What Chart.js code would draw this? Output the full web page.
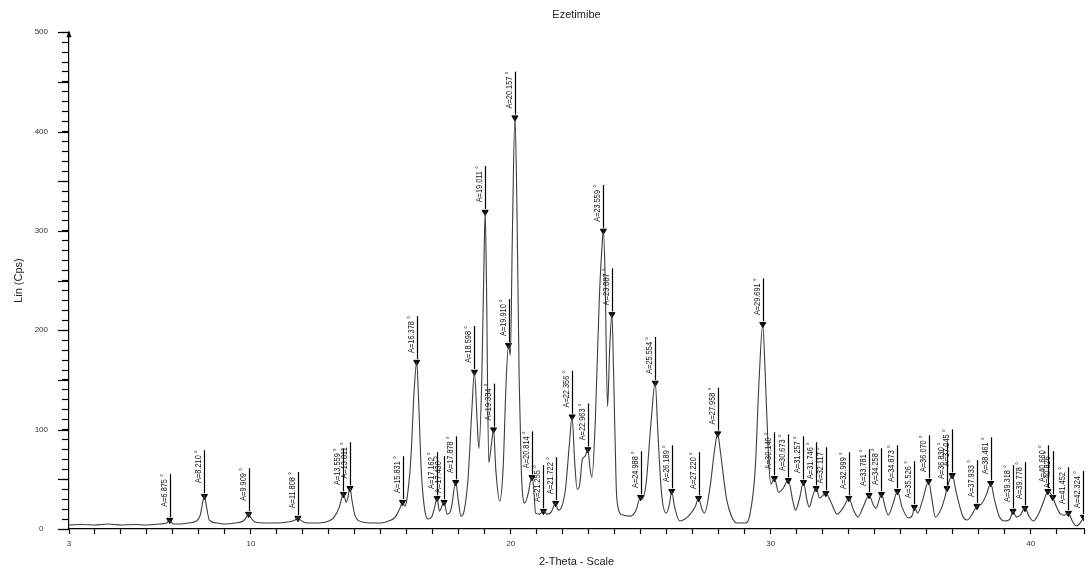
<!DOCTYPE html>
<html>
<head>
<meta charset="utf-8">
<script src="https://cdn.jsdelivr.net/npm/chart.js@4.4.1/dist/chart.umd.min.js"></script>
<style>
  html, body { margin: 0; padding: 0; background: #fff; }
  #wrap { width: 1089px; height: 571px; }
</style>
</head>
<body>
<div id="wrap"><canvas id="xrd"></canvas></div>
<script>
// scan trace (2-theta in degrees, counts)
const twoTheta = [
  3.00, 3.50, 4.00, 4.50, 5.00, 5.50, 6.00, 6.50, 6.75, 6.875, 7.00, 7.30, 7.60, 7.90,
  8.05, 8.15, 8.21, 8.28, 8.40, 8.70, 9.00, 9.40, 9.70, 9.85, 9.91, 9.98, 10.15, 10.50,
  11.00, 11.40, 11.70, 11.81, 11.90, 12.20, 12.60, 13.00, 13.20, 13.40, 13.50, 13.56,
  13.66, 13.72, 13.81, 13.88, 14.00, 14.30, 14.70, 15.00, 15.30, 15.55, 15.75, 15.83,
  15.92, 16.00, 16.15, 16.28, 16.378, 16.45, 16.55, 16.68, 16.82, 16.95, 17.05, 17.162,
  17.25, 17.43, 17.55, 17.70, 17.878, 17.98, 18.08, 18.20, 18.35, 18.50, 18.598, 18.70,
  18.77, 18.88, 18.96, 19.011, 19.06, 19.15, 19.25, 19.334, 19.42, 19.57, 19.70, 19.82,
  19.91, 19.98, 20.06, 20.157, 20.23, 20.32, 20.40, 20.53, 20.66, 20.814, 20.88, 20.95,
  21.10, 21.255, 21.40, 21.55, 21.722, 21.82, 21.95, 22.10, 22.25, 22.356, 22.45, 22.55,
  22.65, 22.75, 22.85, 22.963, 23.05, 23.12, 23.25, 23.40, 23.52, 23.559, 23.62, 23.72,
  23.80, 23.887, 23.95, 24.05, 24.10, 24.30, 24.60, 24.80, 24.988, 25.05, 25.20, 25.40,
  25.554, 25.65, 25.80, 25.98, 26.10, 26.189, 26.30, 26.50, 26.70, 26.90, 27.10, 27.22,
  27.35, 27.45, 27.65, 27.85, 27.958, 28.05, 28.30, 28.50, 28.70, 29.00, 29.20, 29.40,
  29.55, 29.691, 29.78, 29.90, 30.00, 30.14, 30.30, 30.45, 30.673, 30.85, 30.95, 31.10,
  31.257, 31.40, 31.48, 31.60, 31.746, 31.88, 32.117, 32.30, 32.55, 32.80, 32.999, 33.20,
  33.35, 33.55, 33.781, 33.95, 34.05, 34.258, 34.40, 34.52, 34.70, 34.873, 35.05, 35.30,
  35.45, 35.526, 35.65, 35.85, 36.07, 36.20, 36.33, 36.55, 36.68, 36.78, 36.98, 37.15,
  37.40, 37.55, 37.75, 37.933, 38.10, 38.30, 38.461, 38.60, 38.80, 39.00, 39.20, 39.318,
  39.45, 39.60, 39.778, 39.95, 40.10, 40.30, 40.50, 40.66, 40.85, 40.95, 41.15, 41.30,
  41.452, 41.60, 41.75, 41.90, 42.05
];
const counts = [
  4, 4.5, 4, 5, 4, 4.5, 4, 5, 6, 9, 5, 5, 6, 8,
  14, 28, 34, 24, 9, 6, 5, 6, 8, 13, 16, 12, 7, 6,
  6, 7, 9, 12, 9, 6, 6, 8, 12, 22, 32, 36,
  27, 30, 42, 30, 14, 7, 6, 6, 8, 12, 22, 27,
  23, 30, 70, 140, 168, 130, 60, 20, 10, 12, 20, 31,
  18, 27, 15, 20, 47, 28, 13, 18, 50, 120, 158, 110,
  81, 150, 260, 320, 250, 67, 85, 100, 60, 28, 60, 150,
  185, 175, 300, 415, 330, 150, 60, 26, 35, 53, 40, 16,
  15, 18, 15, 17, 26, 19, 22, 40, 85, 113, 70, 40,
  45, 70, 73, 80, 60, 52, 110, 230, 290, 300, 260, 123,
  180, 217, 160, 45, 25, 14, 13, 18, 32, 30, 45, 110,
  148, 100, 35, 16, 25, 38, 22, 8, 10, 15, 23, 31,
  20, 16, 40, 82, 96, 80, 30, 12, 6, 6, 15, 60,
  150, 206, 160, 80, 45, 51, 37, 40, 49, 28, 19, 30,
  47, 28, 22, 32, 41, 31, 36, 28, 15, 22, 31, 18,
  12, 22, 34, 24, 21, 35, 22, 14, 25, 38, 22, 11,
  14, 22, 16, 30, 48, 30, 12, 20, 30, 41, 54, 35,
  12, 9, 15, 23, 25, 35, 46, 30, 12, 8, 10, 18,
  12, 14, 21, 12, 8, 15, 28, 38, 32, 25, 15, 14,
  16, 8, 3, 6, 12
];

// peak markers
const peakTheta = [
  6.875, 8.210, 9.909, 11.808, 13.559, 13.811, 15.831, 16.378, 17.162, 17.430, 17.878,
  18.598, 19.011, 19.334, 19.910, 20.157, 20.814, 21.255, 21.722, 22.356, 22.963, 23.559,
  23.887, 24.988, 25.554, 26.189, 27.220, 27.958, 29.691, 30.140, 30.673, 31.257, 31.746,
  32.117, 32.999, 33.781, 34.258, 34.873, 35.526, 36.070, 36.780, 36.980, 37.933, 38.461,
  39.318, 39.778, 40.660, 40.850, 41.452, 42.030
];
const peakCounts = [
  9, 33, 15, 11, 35, 41, 27, 168, 31, 27, 47,
  158, 319, 100, 185, 414, 52, 18, 26, 113, 80, 300,
  216, 32, 147, 38, 31, 96, 206, 51, 49, 47, 41,
  36, 31, 34, 35, 38, 22, 48, 41, 54, 23, 46,
  18, 21, 38, 32, 16, 12
];
const peakLabels = [
  'A=6.875 °', 'A=8.210 °', 'A=9.909 °', 'A=11.808 °', 'A=13.559 °', 'A=13.811 °',
  'A=15.831 °', 'A=16.378 °', 'A=17.162 °', 'A=17.430 °', 'A=17.878 °', 'A=18.598 °',
  'A=19.011 °', 'A=19.334 °', 'A=19.910 °', 'A=20.157 °', 'A=20.814 °', 'A=21.255 °',
  'A=21.722 °', 'A=22.356 °', 'A=22.963 °', 'A=23.559 °', 'A=23.887 °', 'A=24.988 °',
  'A=25.554 °', 'A=26.189 °', 'A=27.220 °', 'A=27.958 °', 'A=29.691 °', 'A=30.140 °',
  'A=30.673 °', 'A=31.257 °', 'A=31.746 °', 'A=32.117 °', 'A=32.999 °', 'A=33.781 °',
  'A=34.258 °', 'A=34.873 °', 'A=35.526 °', 'A=36.070 °', 'A=36.830 °', 'A=37.045 °',
  'A=37.933 °', 'A=38.461 °', 'A=39.318 °', 'A=39.778 °', 'A=40.660 °', 'A=40.826 °',
  'A=41.452 °', 'A=42.324 °'
];

const xTickLabels = [3, 10, 20, 30, 40];
const yTickLabels = [0, 100, 200, 300, 400, 500];

const labelFont = '9px "Liberation Sans Narrow", "Liberation Sans", Arial, sans-serif';

// stick + rotated label above each marker, longer ticks on the y axis
const peakMarkers = {
  id: 'peakMarkers',
  afterDatasetsDraw(chart) {
    const { ctx, scales: { x, y } } = chart;
    ctx.save();
    ctx.strokeStyle = '#000';
    ctx.lineWidth = 1.2;
    ctx.fillStyle = '#111';
    ctx.font = labelFont;
    peakTheta.forEach((t, i) => {
      const px = Math.round(x.getPixelForValue(t)) + 0.5;
      const py = y.getPixelForValue(peakCounts[i]);
      ctx.beginPath();
      ctx.moveTo(px, py - 3);
      ctx.lineTo(px, py - 46);
      ctx.stroke();
      ctx.save();
      ctx.translate(px - 1.5, py - 46);
      ctx.rotate(-Math.PI / 2);
      ctx.scale(0.82, 1);
      ctx.textAlign = 'right';
      ctx.textBaseline = 'bottom';
      ctx.fillText(peakLabels[i], 0, 0);
      ctx.restore();
    });
    // longer ticks every 50
    ctx.lineWidth = 1.2;
    for (let v = 0; v <= 500; v += 50) {
      const ty = Math.round(y.getPixelForValue(v)) + 0.5;
      ctx.beginPath();
      ctx.moveTo(x.left - 11, ty);
      ctx.lineTo(x.left, ty);
      ctx.stroke();
    }
    // small arrow head on top of the y axis
    const ax = x.left, ay = y.top;
    ctx.fillStyle = '#000';
    ctx.beginPath();
    ctx.moveTo(ax, ay - 2);
    ctx.lineTo(ax - 2.5, ay + 5);
    ctx.lineTo(ax + 2.5, ay + 5);
    ctx.closePath();
    ctx.fill();
    ctx.restore();
  }
};

new Chart(document.getElementById('xrd'), {
  type: 'scatter',
  data: {
    datasets: [{
      data: twoTheta.map((t, i) => ({ x: t, y: counts[i] })),
      showLine: true,
      borderColor: '#3c3c3c',
      borderWidth: 1.1,
      pointRadius: 0,
      cubicInterpolationMode: 'monotone'
    }, {
      data: peakTheta.map((t, i) => ({ x: t, y: peakCounts[i] })),
      showLine: false,
      pointStyle: 'triangle',
      rotation: 180,
      pointRadius: 3.5,
      backgroundColor: '#000',
      borderColor: '#000',
      borderWidth: 1
    }]
  },
  options: {
    responsive: true,
    maintainAspectRatio: false,
    animation: false,
    layout: { padding: { top: 0, right: 0, bottom: 0, left: 0 } },
    plugins: {
      legend: { display: false },
      tooltip: { enabled: false },
      title: {
        display: true,
        text: 'Ezetimibe',
        fullSize: false,
        color: '#222',
        font: { family: 'Liberation Sans, Arial, sans-serif', size: 11, weight: 'normal' },
        padding: { top: 8, bottom: 11 }
      }
    },
    scales: {
      x: {
        type: 'linear',
        min: 3,
        max: 42.05,
        afterFit: s => { s.height = 42; },
        border: { display: true, color: '#000', width: 1.2 },
        grid: { drawOnChartArea: false, drawTicks: true, tickLength: 5, tickColor: '#000', tickWidth: 1.2 },
        ticks: {
          stepSize: 1,
          autoSkip: false,
          maxRotation: 0,
          padding: 5,
          color: '#333',
          font: { family: 'Liberation Sans, Arial, sans-serif', size: 8 },
          callback: v => (xTickLabels.includes(v) ? String(v) : '')
        },
        title: {
          display: true,
          text: '2-Theta - Scale',
          color: '#222',
          font: { family: 'Liberation Sans, Arial, sans-serif', size: 11 },
          padding: { top: 0, bottom: 2 }
        }
      },
      y: {
        min: 0,
        max: 500,
        afterFit: s => { s.width = 69; },
        border: { display: true, color: '#000', width: 1.2 },
        grid: { drawOnChartArea: false, drawTicks: true, tickLength: 7, tickColor: '#000', tickWidth: 1.2 },
        ticks: {
          stepSize: 10,
          autoSkip: false,
          crossAlign: 'center',
          padding: 14,
          color: '#333',
          font: { family: 'Liberation Sans, Arial, sans-serif', size: 8 },
          callback: v => (yTickLabels.includes(v) ? String(v) : '')
        },
        title: {
          display: true,
          text: 'Lin (Cps)',
          color: '#222',
          font: { family: 'Liberation Sans, Arial, sans-serif', size: 11 },
          padding: { top: 12, bottom: 0 }
        }
      }
    }
  },
  plugins: [peakMarkers]
});
</script>
</body>
</html>
